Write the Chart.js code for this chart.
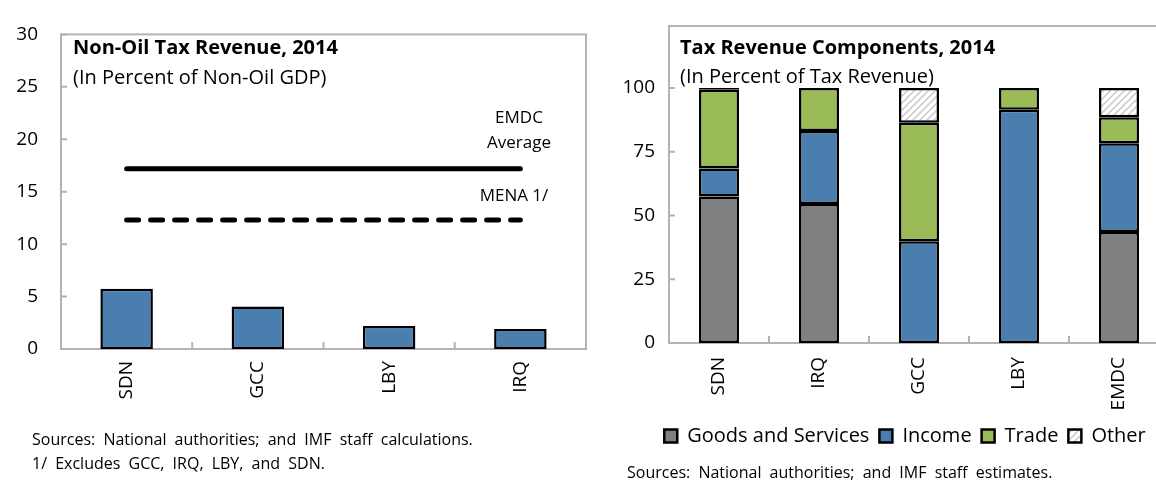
<!DOCTYPE html>
<html>
<head>
<meta charset="utf-8">
<script src="https://cdn.jsdelivr.net/npm/chart.js@4"></script>
<style>
  body { margin: 0; width: 1156px; height: 480px; overflow: hidden; background: #fff; position: relative; font-family: 'Open Sans', sans-serif; }
  .box { position: absolute; top: 0; height: 480px; }
  .txt { position: absolute; white-space: nowrap; color: #000; line-height: 1; transform: translateY(-50%); }
  .ctr { transform: translate(-50%, -50%); }
  .bold { font-weight: bold; }
  .src { font-size: 16px; word-spacing: 4px; }
</style>
</head>
<body>
<div class="box" style="left:0; width:600px;"><canvas id="taxChart"></canvas></div>
<div class="box" style="left:620px; width:570px;"><canvas id="compChart"></canvas></div>

<div class="txt bold" style="left:73px; top:47px; font-size:20px;">Non-Oil Tax Revenue, 2014</div>
<div class="txt" style="left:73px; top:77px; font-size:20px;">(In Percent of Non-Oil GDP)</div>
<div class="txt ctr" style="left:519px; top:116px; font-size:17px;">EMDC</div>
<div class="txt ctr" style="left:519px; top:141px; font-size:17px;">Average</div>
<div class="txt ctr" style="left:514px; top:194px; font-size:17px;">MENA 1/</div>
<div class="txt src" style="left:32px; top:439px;">Sources:  National authorities; and IMF staff calculations.</div>
<div class="txt src" style="left:32px; top:463px;">1/ Excludes GCC, IRQ, LBY, and SDN.</div>

<div class="txt bold" style="left:680px; top:47px; font-size:20px;">Tax Revenue Components, 2014</div>
<div class="txt" style="left:680px; top:76px; font-size:20px;">(In Percent of Tax Revenue)</div>
<div class="txt src" style="left:627px; top:472px;">Sources:  National authorities; and IMF staff estimates.</div>

<script>
// Non-oil tax revenue (percent of non-oil GDP)
const taxCountries = ['SDN', 'GCC', 'LBY', 'IRQ'];
const nonOilTax = [5.75, 4.05, 2.2, 1.9];
const emdcAverage = [17.2, 17.2, 17.2, 17.2];
const menaAverage = [12.3, 12.3, 12.3, 12.3];
const taxTicks = [0, 5, 10, 15, 20, 25, 30];

// Tax revenue components (percent of tax revenue)
const compCountries = ['SDN', 'IRQ', 'GCC', 'LBY', 'EMDC'];
const goodsServices = [57.4, 54.5, 0, 0, 43.5];
const income = [11.0, 28.6, 39.9, 91.5, 34.8];
const trade = [30.9, 16.9, 46.5, 8.5, 10.2];
const other = [0.7, 0, 13.6, 0, 11.5];
const compTicks = [0, 25, 50, 75, 100];

const BLUE = '#4a7eaf';
const GREEN = '#9bbb59';
const GRAY = '#808080';
const FRAME = '#b3b3b3';

Chart.defaults.font.family = "'Open Sans', sans-serif";
Chart.defaults.color = '#000';

function hatch() {
  const c = document.createElement('canvas');
  c.width = 7; c.height = 7;
  const g = c.getContext('2d');
  g.fillStyle = '#fff';
  g.fillRect(0, 0, 7, 7);
  g.strokeStyle = '#c4c4c4';
  g.lineWidth = 1.3;
  g.beginPath();
  g.moveTo(0, 7); g.lineTo(7, 0);
  g.moveTo(-1, 1); g.lineTo(1, -1);
  g.moveTo(6, 8); g.lineTo(8, 6);
  g.stroke();
  return g.createPattern(c, 'repeat');
}

// gray plot frame plus short inward tick marks
const framePlugin = {
  id: 'frame',
  beforeDatasetsDraw(chart) {
    const { ctx, chartArea: a, scales } = chart;
    ctx.save();
    ctx.strokeStyle = FRAME;
    ctx.lineWidth = 2;
    ctx.strokeRect(a.left, a.top, a.right - a.left, a.bottom - a.top);
    ctx.beginPath();
    scales.y.ticks.forEach(t => {
      const y = scales.y.getPixelForValue(t.value);
      ctx.moveTo(a.left, y);
      ctx.lineTo(a.left + 6, y);
    });
    const n = scales.x.ticks.length;
    for (let i = 0; i < n - 1; i++) {
      const x = (scales.x.getPixelForTick(i) + scales.x.getPixelForTick(i + 1)) / 2;
      ctx.moveTo(x, a.bottom);
      ctx.lineTo(x, a.bottom - 7);
    }
    ctx.stroke();
    ctx.restore();
  }
};

new Chart(document.getElementById('taxChart'), {
  type: 'bar',
  data: {
    labels: taxCountries,
    datasets: [
      {
        type: 'line', label: 'EMDC Average', data: emdcAverage,
        borderColor: '#000', borderWidth: 5, pointRadius: 0, borderCapStyle: 'round'
      },
      {
        type: 'line', label: 'MENA 1/', data: menaAverage,
        borderColor: '#000', borderWidth: 5, pointRadius: 0, borderCapStyle: 'round', borderDash: [12, 12]
      },
      {
        label: 'Non-Oil Tax Revenue', data: nonOilTax,
        backgroundColor: BLUE, borderColor: '#000', borderWidth: 2.5, borderSkipped: false,
        barPercentage: 0.4, categoryPercentage: 1
      }
    ]
  },
  options: {
    responsive: true,
    maintainAspectRatio: false,
    animation: false,
    layout: { padding: { left: 0, right: 14, top: 26, bottom: 0 } },
    plugins: { legend: { display: false }, tooltip: { enabled: false } },
    scales: {
      x: {
        grid: { display: false, drawTicks: false },
        border: { display: false },
        ticks: { minRotation: 90, maxRotation: 90, padding: 12, font: { size: 19 } },
        afterFit: s => { s.height = 131; }
      },
      y: {
        min: 0, max: 30,
        grid: { display: false, drawTicks: false },
        border: { display: false },
        ticks: { padding: 23, font: { size: 19 } },
        afterBuildTicks: s => { s.ticks = taxTicks.map(v => ({ value: v })); },
        afterFit: s => { s.width = 61; }
      }
    }
  },
  plugins: [framePlugin]
});

const compDatasets = [
  { label: 'Goods and Services', data: goodsServices, backgroundColor: GRAY },
  { label: 'Income', data: income, backgroundColor: BLUE },
  { label: 'Trade', data: trade, backgroundColor: GREEN },
  { label: 'Other', data: other, backgroundColor: hatch() }
].map(d => Object.assign(d, {
  borderColor: '#000', borderWidth: 2.5, borderSkipped: false,
  barPercentage: 0.4, categoryPercentage: 1
}));

new Chart(document.getElementById('compChart'), {
  type: 'bar',
  data: { labels: compCountries, datasets: compDatasets },
  options: {
    responsive: true,
    maintainAspectRatio: false,
    animation: false,
    layout: { padding: { left: 0, right: 0, top: 26, bottom: 24 } },
    plugins: {
      tooltip: { enabled: false },
      legend: {
        position: 'bottom',
        labels: { font: { size: 20 }, boxWidth: 13, boxHeight: 13, padding: 10 }
      }
    },
    scales: {
      x: {
        stacked: true,
        grid: { display: false, drawTicks: false },
        border: { display: false },
        ticks: { minRotation: 90, maxRotation: 90, padding: 14, font: { size: 19 } },
        afterFit: s => { s.height = 73; }
      },
      y: {
        stacked: true,
        min: 0, max: 124.3,
        grid: { display: false, drawTicks: false },
        border: { display: false },
        ticks: { padding: 14, font: { size: 19 } },
        afterBuildTicks: s => { s.ticks = compTicks.map(v => ({ value: v })); },
        afterFit: s => { s.width = 49; }
      },
      yPad: {
        position: 'right',
        grid: { display: false },
        border: { display: false },
        ticks: { display: false },
        afterFit: s => { s.width = 21; }
      }
    }
  },
  plugins: [framePlugin]
});
</script>
</body>
</html>
